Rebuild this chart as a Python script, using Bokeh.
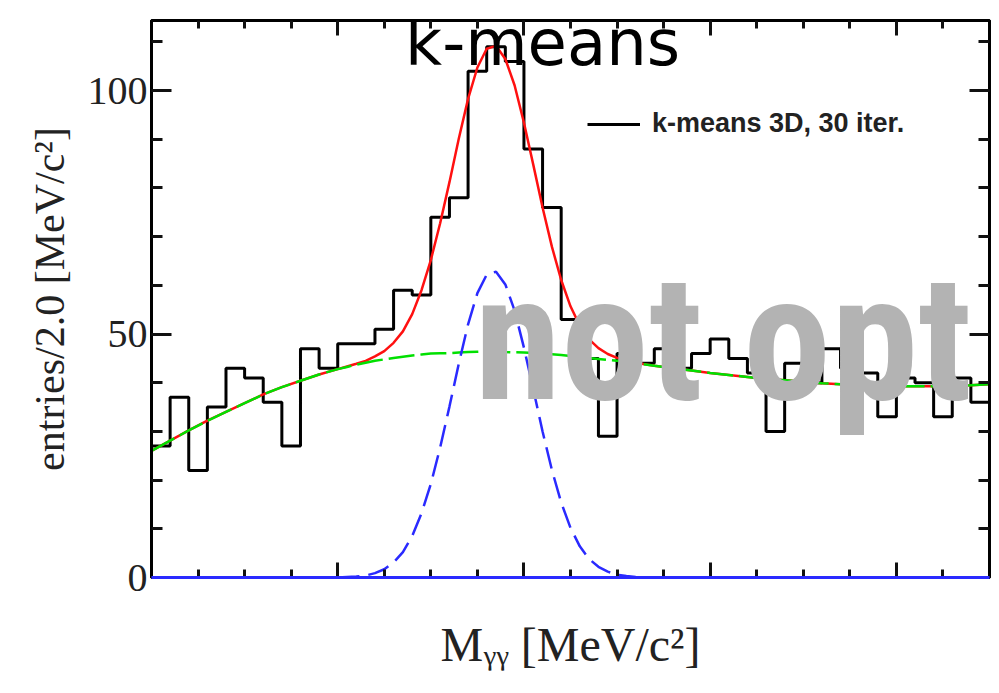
from bokeh.plotting import figure
from bokeh.models import LinearAxis, SingleIntervalTicker, Label, Range1d, CustomJSTickFormatter
from bokeh.embed import file_html
from bokeh.resources import INLINE

# ---------------- data ----------------
bin_width = 2.0
x_lo, x_hi = 100.0, 190.0
counts = [27, 37, 22, 35, 43, 41, 36, 27, 47, 43,
          48, 48, 51, 59, 58, 74, 78, 104, 109, 106,
          88, 76, 53, 45, 29, 46, 44, 47, 43, 46,
          49, 45, 42, 30, 44, 40, 47, 43, 42, 33,
          41, 40, 33, 41, 36]
bin_edges = [x_lo + bin_width * i for i in range(len(counts) + 1)]

fit_x = [100, 102, 104, 106, 108, 110, 112, 114, 116, 118,
         120, 121, 122, 123, 124, 125, 126, 127, 128, 129,
         130, 131, 132, 133, 134, 135, 136, 137, 138, 139,
         140, 141, 142, 143, 144, 145, 146, 147, 148, 149,
         150, 151, 152, 154, 156, 158, 160, 162, 164, 166,
         168, 170, 172, 174, 176, 178, 180, 182, 184, 186,
         188, 190]
bkg_y = [26.0, 28.1, 30.2, 32.2, 34.0, 35.8, 37.6, 39.1, 40.4, 41.7,
         42.8, 43.25, 43.7, 44.1, 44.5, 44.8, 45.1, 45.35, 45.6, 45.8,
         46.0, 46.05, 46.1, 46.2, 46.3, 46.35, 46.4, 46.4, 46.3, 46.25,
         46.2, 46.1, 46.0, 45.85, 45.7, 45.5, 45.3, 45.1, 44.9, 44.7,
         44.5, 44.25, 44.0, 43.5, 43.0, 42.5, 42.0, 41.6, 41.2, 40.8,
         40.5, 40.2, 39.9, 39.7, 39.5, 39.4, 39.3, 39.3, 39.3, 39.4,
         39.5, 39.7]
sig_y = [0, 0, 0, 0, 0, 0, 0, 0, 0, 0,
         0.0, 0.1, 0.2, 0.4, 0.9, 1.7, 3.1, 5.2, 8.5, 13.2,
         19.2, 26.7, 35.1, 43.9, 52.0, 58.4, 62.2, 62.8, 60.2, 54.8,
         47.2, 38.7, 30.0, 22.1, 15.4, 10.2, 6.4, 3.8, 2.2, 1.2,
         0.6, 0.3, 0.1, 0, 0, 0, 0, 0, 0, 0,
         0, 0, 0, 0, 0, 0, 0, 0, 0, 0,
         0, 0]
tot_y = [26.0, 28.1, 30.2, 32.2, 34.0, 35.8, 37.6, 39.1, 40.4, 41.7,
         42.8, 43.35, 43.9, 44.5, 45.4, 46.5, 48.2, 50.55, 54.1, 59.0,
         65.2, 72.75, 81.2, 90.1, 98.3, 104.75, 108.6, 109.2, 106.5, 101.05,
         93.4, 84.8, 76.0, 67.95, 61.1, 55.7, 51.7, 48.9, 47.1, 45.9,
         45.1, 44.55, 44.1, 43.5, 43.0, 42.5, 42.0, 41.6, 41.2, 40.8,
         40.5, 40.2, 39.9, 39.7, 39.5, 39.4, 39.3, 39.3, 39.3, 39.4,
         39.5, 39.7]

y_max = 114.4
legend_text = "k-means 3D, 30 iter."
title_text = "k-means"
stamp_text = "not opt"
x_label = "M\u1d67\u1d67 [MeV/c\u00b2]"
y_label = "entries/2.0 [MeV/c\u00b2]"

# ---------------- figure ----------------
p = figure(frame_width=838, frame_height=557,
           x_range=Range1d(x_lo, x_hi), y_range=Range1d(0, y_max),
           output_backend="svg", toolbar_location=None,
           min_border_left=151, min_border_right=2,
           min_border_top=20, min_border_bottom=10,
           background_fill_color="white", border_fill_color="white")
p.grid.visible = False
p.outline_line_color = "black"
p.outline_line_width = 3

xt = SingleIntervalTicker(interval=20, num_minor_ticks=4)
yt = SingleIntervalTicker(interval=50, num_minor_ticks=5)
p.xaxis.ticker = xt
p.yaxis.ticker = yt
blank = CustomJSTickFormatter(code="return '';")


def style_axis(ax, major_len, minor_len, show_labels):
    ax.axis_line_width = 3
    ax.axis_line_color = "black"
    ax.major_tick_in = major_len
    ax.major_tick_out = 0
    ax.minor_tick_in = minor_len
    ax.minor_tick_out = 0
    ax.major_tick_line_width = 3
    ax.minor_tick_line_width = 3
    ax.major_tick_line_color = "#111111"
    ax.minor_tick_line_color = "#111111"
    if not show_labels:
        ax.formatter = blank
        ax.major_label_text_font_size = "8px"
        ax.major_label_standoff = 0


xa = p.xaxis[0]
ya = p.yaxis[0]
style_axis(xa, 15, 8, False)
style_axis(ya, 20, 11, True)
ya.major_label_text_font = "Liberation Serif"
ya.major_label_text_font_size = "40px"
ya.major_label_text_color = "#222222"
ya.major_label_standoff = 4
ya.axis_label = y_label
ya.axis_label_text_font = "Liberation Serif"
ya.axis_label_text_font_size = "42px"
ya.axis_label_text_font_style = "normal"
ya.axis_label_text_color = "#222222"
ya.axis_label_standoff = 12
xa.axis_label = x_label
xa.axis_label_text_font = "Liberation Serif"
xa.axis_label_text_font_size = "48px"
xa.axis_label_text_font_style = "normal"
xa.axis_label_text_color = "#222222"
xa.axis_label_standoff = 40

ra = LinearAxis(ticker=yt)
style_axis(ra, 20, 11, False)
p.add_layout(ra, "right")
ta = LinearAxis(ticker=xt)
style_axis(ta, 15, 8, False)
p.add_layout(ta, "above")

# ---------------- glyphs ----------------
step_y = counts + [counts[-1]]
p.step(x=bin_edges, y=step_y, mode="after", line_color="black", line_width=3,
       legend_label=legend_text)
p.line(x=fit_x, y=tot_y, line_color="#ff1010", line_width=2.5)
p.line(x=fit_x, y=bkg_y, line_color="#00e000", line_width=2.5, line_dash="26 6")
p.line(x=fit_x, y=sig_y, line_color="#2a2aff", line_width=2.5, line_dash="22 9")
base = p.line(x=[bin_edges[0], bin_edges[-1]], y=[0, 0], line_color="#2a2aff", line_width=3)
base.level = "overlay"

leg = p.legend[0]
leg.location = (436, 438)
leg.background_fill_alpha = 0
leg.border_line_alpha = 0
leg.label_text_font = "Liberation Sans"
leg.label_text_font_style = "bold"
leg.label_text_font_size = "27px"
leg.label_text_color = "#222222"
leg.glyph_width = 53
leg.glyph_height = 24
leg.label_height = 24
leg.label_standoff = 12
leg.padding = 0
leg.margin = 0
leg.spacing = 0

# ---------------- texts ----------------
p.add_layout(Label(x=142.0, y=109.8, text=title_text, text_align="center",
                   text_baseline="alphabetic", text_font="DejaVu Sans",
                   text_font_size="64px", text_color="black"))
p.add_layout(Label(x=134.7, y=49.0, text=stamp_text, text_align="left",
                   text_baseline="alphabetic",
                   text_font="Roboto Condensed, Roboto",
                   text_font_style="bold", text_font_size="176px",
                   text_color="#b3b3b3"))

open("out.html", "w").write(file_html(p, INLINE))
